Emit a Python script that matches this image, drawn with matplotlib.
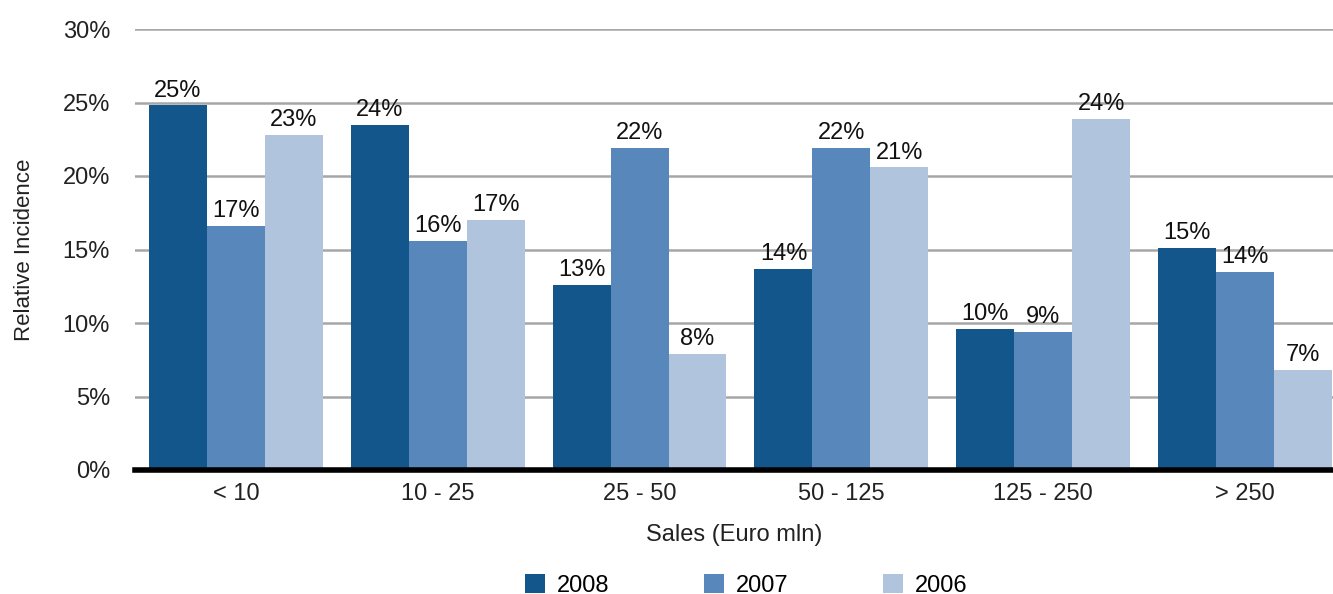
import numpy as np
import matplotlib
matplotlib.use('Agg')
import matplotlib.pyplot as plt

# data
categories = ['< 10', '10 - 25', '25 - 50', '50 - 125', '125 - 250', '> 250']
years = ['2008', '2007', '2006']
values_2008 = [24.8, 23.5, 12.6, 13.7, 9.6, 15.1]
values_2007 = [16.6, 15.6, 21.9, 21.9, 9.4, 13.5]
values_2006 = [22.8, 17.0, 7.9, 20.6, 23.9, 6.8]
colors = ['#13568C', '#5888BB', '#B1C4DE']

plt.rcParams['font.family'] = ['Liberation Sans', 'DejaVu Sans']

fig = plt.figure(figsize=(13.33, 5.94), dpi=100)
ax = fig.add_axes([135 / 1333, 1 - 470 / 594, (1333 - 135) / 1333, (470 - 29) / 594])

x = np.arange(len(categories))
width = 0.287
series = [values_2008, values_2007, values_2006]
for i, (vals, year, col) in enumerate(zip(series, years, colors)):
    pos = x + (i - 1) * width
    bars = ax.bar(pos, vals, width=width, color=col, label=year, zorder=3)
    for b, v in zip(bars, vals):
        ax.text(b.get_x() + b.get_width() / 2, v + 0.25, f'{int(v + 0.5)}%',
                ha='center', va='bottom', fontsize=17, color='#111111', zorder=4)

ax.set_xlim(-0.5, len(categories) - 1 + 0.436)
ax.set_ylim(0, 30)
ax.set_yticks(np.arange(0, 31, 5))
ax.set_yticklabels([f'{t}%' for t in range(0, 31, 5)])
ax.set_xticks(x)
ax.set_xticklabels(categories)

ax.grid(axis='y', color='#a6a6a6', linewidth=1.8, zorder=0)
for s in ['top', 'right', 'left']:
    ax.spines[s].set_visible(False)
ax.spines['bottom'].set_linewidth(4)
ax.spines['bottom'].set_color('black')
ax.spines['bottom'].set_zorder(5)
ax.tick_params(axis='both', length=0, labelsize=17, colors='#222222')
ax.tick_params(axis='x', pad=9)
ax.tick_params(axis='y', pad=18)

ax.set_xlabel('Sales (Euro mln)', fontsize=17, color='#222222', labelpad=14)
ax.set_ylabel('Relative Incidence', fontsize=16, color='#222222', labelpad=20)

fig.legend(loc='lower center', bbox_to_anchor=(0.56, -0.04), ncol=3, frameon=False,
           fontsize=17, handlelength=0.85, handleheight=0.85, handletextpad=0.5,
           columnspacing=4.0)

fig.savefig('out.png', dpi=100)
